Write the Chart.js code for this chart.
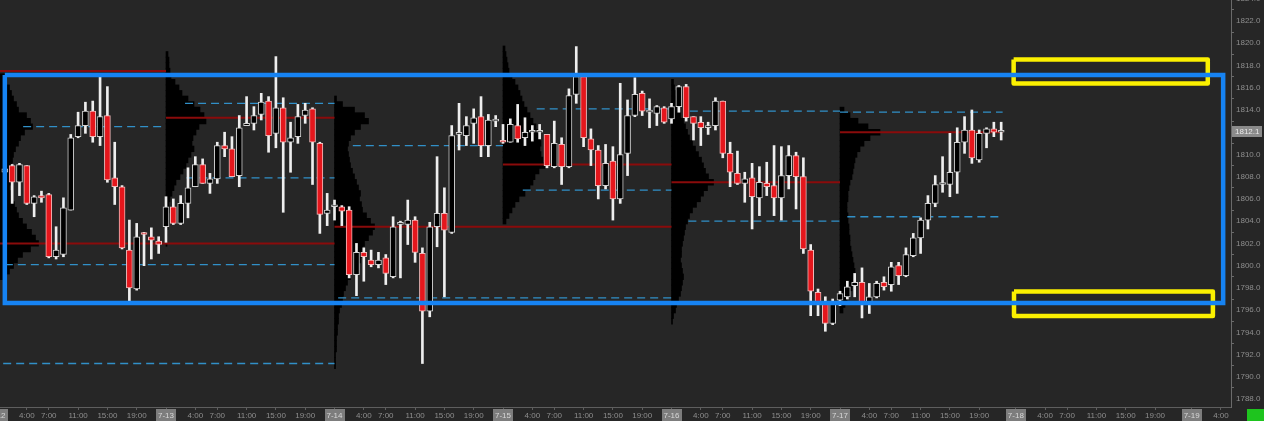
<!DOCTYPE html>
<html>
<head>
<meta charset="utf-8">
<title>GC 60 min - volume profile</title>
<script src="https://cdn.jsdelivr.net/npm/chart.js"></script>
<style>
    html, body { margin: 0; padding: 0; background: #262626; overflow: hidden; }
    #wrap { width: 1264px; height: 421px; }
</style>
</head>
<body>
<div id="wrap"><canvas id="chart" width="1264" height="421"></canvas></div>
<script>
        // --- hourly bars (slot 1 = 7-12 01:00, one slot per hour) ---
        const FIRST_SLOT = 1;
        const opens = [
            1808.4, 1809.0, 1807.5, 1809.0, 1805.6, 1806.3, 1806.4, 1800.8, 1801.0, 1805.0,
            1811.6, 1812.6, 1813.9, 1811.6, 1813.5, 1807.9, 1807.1, 1801.4, 1797.9, 1802.9,
            1802.6, 1802.2, 1803.5, 1805.3, 1803.8, 1805.6, 1807.1, 1809.1, 1807.4, 1807.8,
            1810.8, 1810.5, 1808.1, 1812.6, 1812.8, 1813.6, 1814.8, 1811.9, 1814.2, 1811.1,
            1811.6, 1813.5, 1814.1, 1811.0, 1804.7, 1805.3, 1805.3, 1805.0, 1799.2, 1801.2,
            1800.5, 1800.1, 1800.7, 1799.0, 1803.7, 1803.7, 1804.1, 1801.1, 1795.9, 1803.5,
            1804.7, 1803.0, 1811.8, 1811.7, 1812.8, 1813.4, 1810.8, 1813.0, 1811.2, 1811.1,
            1812.6, 1811.5, 1812.0, 1812.0, 1811.8, 1808.9, 1810.9, 1808.9, 1815.4, 1817.0,
            1811.4, 1810.4, 1807.2, 1809.4, 1806.0, 1810.1, 1813.5, 1815.5, 1813.8, 1813.7,
            1814.2, 1813.2, 1814.3, 1816.1, 1813.4, 1812.9, 1812.4, 1812.6, 1814.8, 1810.1,
            1808.3, 1807.4, 1807.9, 1806.1, 1807.4, 1807.2, 1806.1, 1808.1, 1809.9, 1808.0,
            1801.4, 1797.6, 1796.6, 1794.8, 1796.9, 1797.2, 1798.2, 1798.5, 1796.5, 1797.2,
            1798.5, 1798.3, 1800.0, 1799.1, 1800.9, 1802.5, 1804.1, 1805.6, 1807.3, 1807.3,
            1808.4, 1811.1, 1812.2, 1809.5, 1811.9, 1812.3, 1812.0
        ];
        const highs = [
            1809.0, 1809.1, 1809.2, 1809.0, 1806.3, 1806.7, 1806.5, 1803.5, 1806.1, 1811.8,
            1813.8, 1814.7, 1814.8, 1817.0, 1816.1, 1811.1, 1807.2, 1804.1, 1803.8, 1803.0,
            1803.4, 1802.6, 1806.2, 1806.0, 1806.3, 1808.8, 1809.8, 1809.6, 1808.3, 1811.1,
            1812.0, 1811.6, 1813.5, 1815.2, 1814.3, 1815.5, 1815.2, 1818.8, 1815.1, 1812.9,
            1814.5, 1814.6, 1814.2, 1811.1, 1806.5, 1805.9, 1805.4, 1805.3, 1802.0, 1801.6,
            1801.4, 1801.2, 1801.0, 1804.4, 1804.0, 1805.9, 1804.4, 1801.6, 1803.9, 1809.8,
            1807.0, 1812.6, 1814.6, 1813.4, 1814.1, 1815.2, 1813.6, 1813.5, 1812.7, 1813.2,
            1814.5, 1813.3, 1812.6, 1812.7, 1811.8, 1813.0, 1811.5, 1815.9, 1819.7, 1817.0,
            1812.3, 1810.8, 1810.9, 1810.7, 1816.4, 1814.9, 1816.9, 1815.7, 1815.0, 1814.4,
            1814.3, 1814.6, 1816.2, 1816.3, 1813.4, 1813.4, 1812.9, 1815.1, 1814.8, 1811.1,
            1810.3, 1808.4, 1809.2, 1808.9, 1809.3, 1810.8, 1810.7, 1810.8, 1810.2, 1809.7,
            1801.9, 1797.9, 1797.2, 1797.0, 1797.7, 1798.6, 1799.3, 1799.8, 1798.4, 1798.6,
            1799.0, 1800.3, 1800.3, 1801.6, 1802.9, 1804.3, 1806.3, 1808.1, 1809.8, 1811.9,
            1812.4, 1813.4, 1814.0, 1812.2, 1812.4, 1812.9, 1812.9
        ];
        const lows = [
            1807.8, 1805.6, 1806.3, 1805.5, 1804.4, 1805.7, 1800.7, 1800.6, 1800.8, 1805.0,
            1811.5, 1811.9, 1811.1, 1810.8, 1807.5, 1805.5, 1801.5, 1796.7, 1797.8, 1800.0,
            1800.6, 1801.1, 1802.1, 1803.7, 1803.7, 1804.3, 1807.1, 1807.4, 1806.5, 1807.4,
            1809.8, 1808.0, 1807.1, 1812.6, 1812.2, 1813.1, 1810.2, 1810.6, 1804.8, 1808.4,
            1811.0, 1812.8, 1807.3, 1802.9, 1803.6, 1804.1, 1803.6, 1798.9, 1797.3, 1798.6,
            1799.9, 1799.8, 1798.3, 1798.9, 1798.9, 1801.9, 1800.3, 1791.2, 1795.4, 1801.7,
            1797.2, 1802.9, 1810.4, 1810.8, 1811.0, 1809.8, 1809.8, 1812.5, 1811.0, 1811.1,
            1811.1, 1810.8, 1811.2, 1811.4, 1808.8, 1808.8, 1807.3, 1808.8, 1814.6, 1810.7,
            1809.0, 1806.0, 1806.9, 1804.1, 1805.6, 1808.1, 1813.4, 1813.5, 1812.4, 1812.6,
            1812.8, 1812.8, 1813.8, 1813.0, 1811.3, 1810.8, 1811.8, 1812.2, 1809.7, 1807.1,
            1807.3, 1805.7, 1803.3, 1804.5, 1806.3, 1804.5, 1804.1, 1806.9, 1805.1, 1801.1,
            1795.5, 1795.5, 1794.1, 1794.7, 1796.4, 1797.0, 1797.2, 1795.3, 1795.7, 1797.1,
            1797.8, 1797.7, 1798.3, 1799.0, 1800.8, 1801.1, 1803.3, 1805.3, 1806.6, 1806.2,
            1806.5, 1810.1, 1809.2, 1809.3, 1810.6, 1811.6, 1811.3
        ];
        const closes = [
            1808.7, 1807.5, 1809.1, 1805.6, 1806.2, 1806.1, 1800.8, 1801.4, 1805.2, 1811.5,
            1812.6, 1813.9, 1811.6, 1813.4, 1807.7, 1807.1, 1801.6, 1798.0, 1802.6, 1802.8,
            1802.3, 1801.9, 1805.3, 1803.8, 1805.6, 1807.0, 1809.1, 1807.4, 1807.8, 1810.8,
            1810.5, 1808.0, 1812.4, 1812.8, 1813.5, 1814.7, 1811.7, 1814.2, 1811.1, 1811.5,
            1813.4, 1814.0, 1811.1, 1804.6, 1805.0, 1805.4, 1804.9, 1799.2, 1801.2, 1800.8,
            1800.1, 1800.5, 1799.3, 1803.5, 1803.9, 1804.1, 1801.2, 1795.9, 1803.5, 1804.7,
            1803.2, 1811.7, 1811.9, 1812.6, 1813.3, 1810.8, 1813.1, 1813.1, 1811.1, 1812.7,
            1811.4, 1812.0, 1812.1, 1812.0, 1809.0, 1811.0, 1808.9, 1815.3, 1817.0, 1811.5,
            1810.4, 1807.2, 1809.2, 1806.0, 1810.0, 1813.5, 1815.4, 1813.9, 1813.9, 1814.3,
            1812.9, 1814.3, 1816.1, 1813.3, 1812.8, 1812.4, 1812.6, 1814.8, 1810.1, 1808.4,
            1807.4, 1807.8, 1806.2, 1807.5, 1807.1, 1806.1, 1808.1, 1809.9, 1808.0, 1801.5,
            1797.7, 1796.6, 1794.8, 1796.6, 1797.5, 1798.1, 1798.5, 1796.5, 1797.2, 1798.4,
            1798.1, 1799.9, 1799.1, 1801.0, 1802.5, 1804.1, 1805.6, 1807.3, 1807.4, 1808.4,
            1811.1, 1812.2, 1809.7, 1811.9, 1812.3, 1812.0, 1812.1
        ];

        // --- sessions / axis labels ---
        const dayLabels = ['7-12', '7-13', '7-14', '7-15', '7-16', '7-17', '7-18', '7-19'];
        const daySlots = [0, 23, 46, 69, 92, 115, 139, 163];
        const hourOffsets = [4, 7, 11, 15, 19];
        const hourLabels = ['4:00', '7:00', '11:00', '15:00', '19:00'];
        const priceTicks = [1788, 1790, 1792, 1794, 1796, 1798, 1800, 1802, 1804, 1806,
            1808, 1810, 1812, 1814, 1816, 1818, 1820, 1822, 1824];

        // --- volume profiles (volume per 0.5 price level, from the top level down) ---
        const PROFILE_STEP = 0.5;
        const profileStart = [0, 23, 46, 69, 92, 115];
        const profileTop = [1817.0, 1819.0, 1815.0, 1819.5, 1816.5, 1814.0];
        const vol0712 = [7, 9, 12, 14, 16, 19, 21, 29, 33, 35, 27, 23, 21, 18, 16, 15, 14, 13, 12, 13,
            12, 13, 15, 17, 19, 21, 25, 29, 34, 38, 41, 33, 25, 20, 16, 12, 9];
        const vol0713 = [2, 3, 3, 4, 5, 9, 13, 16, 22, 28, 34, 38, 40, 33, 30, 27, 26, 28, 25, 22,
            20, 17, 14, 10, 8, 6, 4, 3, 3, 2, 2, 2, 1, 1, 1];
        const vol0714 = [2, 8, 20, 30, 34, 26, 20, 16, 14, 13, 14, 15, 16, 18, 20, 22, 24, 26, 25, 27,
            28, 32, 36, 40, 38, 34, 30, 28, 27, 26, 24, 20, 16, 13, 11, 9, 8, 7, 5, 4,
            4, 3, 3, 2, 2, 2, 1, 1, 1];
        const vol0715 = [2, 3, 4, 5, 6, 9, 12, 15, 17, 19, 21, 24, 27, 30, 33, 35, 37, 38, 37, 38,
            40, 42, 36, 32, 30, 27, 22, 16, 12, 9, 6, 3];
        const vol0716 = [2, 3, 4, 5, 6, 7, 9, 12, 14, 16, 18, 21, 24, 27, 30, 32, 34, 37, 42, 36,
            32, 29, 25, 21, 18, 16, 14, 13, 12, 11, 10, 10, 9, 10, 11, 12, 11, 10, 9, 7,
            5, 4, 2, 1];
        const vol0717 = [4, 10, 18, 28, 40, 30, 24, 20, 17, 15, 14, 13, 12, 10, 9, 8, 8, 7, 7, 8,
            8, 9, 9, 10, 10, 11, 12, 13, 14, 15, 15, 14, 12, 9, 7, 5, 3];
        const profileVols = [vol0712, vol0713, vol0714, vol0715, vol0716, vol0717];

        // --- point of control and value area levels (price, from slot, to slot) ---
        const pocLevels = [1817.5, 1802.0, 1813.3, 1803.5, 1809.1, 1807.5, 1812.0];
        const pocFrom = [-1, 0, 23, 46, 69, 92, 115];
        const pocTo = [23, 46, 46, 92, 92, 115, 137.2];
        const vaLevels = [1791.2, 1812.5, 1800.1, 1814.6, 1807.9, 1810.8, 1797.1, 1814.1, 1806.8, 1813.9, 1804.0, 1813.8, 1804.4];
        const vaFrom = [-1, 3.5, 1, 25.6, 25.8, 48.5, 46.5, 73.6, 71.7, 94.5, 94.3, 115, 116];
        const vaTo = [46, 23, 46, 46, 46, 69, 92, 92, 92, 115, 115, 137.2, 137.2];

        // --- marked zones (slot range, price range) ---
        const rangeBox = { from: 1.0, to: 167.3, high: 1817.14, low: 1796.64 };
        const targetFrom = [138.7, 138.75];
        const targetTo = [165.2, 165.9];
        const targetHigh = [1818.54, 1797.67];
        const targetLow = [1816.38, 1795.47];

        // scale window (what the screen shows)
        const X_MIN = 0.341, X_MAX = 168.37;
        const Y_MIN = 1787.29, Y_MAX = 1823.89;
        const VOL_SCALE = 0.1365; // slots per volume unit

        Chart.defaults.font.family = '"Liberation Sans", Arial, sans-serif';
        Chart.defaults.font.size = 8;

        // --- datasets ---
        const slots = opens.map((_, i) => FIRST_SLOT + i);
        const isUp = opens.map((o, i) => closes[i] >= o);
        const datasets = [];

        datasets.push({
            type: 'bar', label: 'bodies', order: 1, grouped: false,
            data: slots.map((s, i) => ({ x: s, y: [opens[i], closes[i]] })),
            backgroundColor: isUp.map(u => u ? '#000000' : '#e5161c'),
            borderColor: isUp.map(u => u ? '#d2d2d2' : '#f1b9b9'),
            borderWidth: 1, borderSkipped: false, barThickness: 6, minBarLength: 2
        });
        datasets.push({
            type: 'bar', label: 'wicks', order: 2, grouped: false,
            data: slots.map((s, i) => ({ x: s, y: [lows[i], highs[i]] })),
            backgroundColor: '#eeeeee', borderWidth: 0, barThickness: 2
        });

        pocLevels.forEach((lvl, k) => datasets.push({
            type: 'line', order: 3,
            data: [{ x: pocFrom[k], y: lvl }, { x: pocTo[k], y: lvl }],
            borderColor: '#8a0b0b', borderWidth: 2, pointRadius: 0
        }));
        vaLevels.forEach((lvl, k) => datasets.push({
            type: 'line', order: 3,
            data: [{ x: vaFrom[k], y: lvl }, { x: vaTo[k], y: lvl }],
            borderColor: '#3190c8', borderWidth: 1.3, borderDash: [8, 5], pointRadius: 0
        }));

        profileVols.forEach((vols, d) => datasets.push({
            type: 'bar', indexAxis: 'y', order: 4, grouped: false,
            data: vols.map((v, k) => ({ y: profileTop[d] - k * PROFILE_STEP, x: [profileStart[d], profileStart[d] + v * VOL_SCALE] })),
            backgroundColor: '#000000', borderWidth: 0, barThickness: 5.7
        }));

        const boxPath = (x0, x1, hi, lo) => [
            { x: x0, y: hi }, { x: x1, y: hi }, { x: x1, y: lo }, { x: x0, y: lo }, { x: x0, y: hi }
        ];
        datasets.push({
            type: 'line', order: 0,
            data: boxPath(rangeBox.from, rangeBox.to, rangeBox.high, rangeBox.low),
            borderColor: '#1683f3', borderWidth: 4.5, pointRadius: 0, borderJoinStyle: 'miter'
        });
        targetFrom.forEach((x0, k) => datasets.push({
            type: 'line', order: 0,
            data: boxPath(x0, targetTo[k], targetHigh[k], targetLow[k]),
            borderColor: '#fbf000', borderWidth: 4.5, pointRadius: 0, borderJoinStyle: 'round'
        }));

        // --- x ticks: day starts + hours ---
        const xTickText = {};
        const xTicks = [];
        daySlots.forEach((d, i) => {
            xTicks.push(d); xTickText[d] = '';
            hourOffsets.forEach((h, j) => {
                if (d + h <= X_MAX) { xTicks.push(d + h); xTickText[d + h] = hourLabels[j]; }
            });
        });

        // scales keep the full canvas: no label padding eaten from the plot
        const noPadding = s => { s.paddingTop = 0; s.paddingBottom = 0; s.paddingLeft = 0; s.paddingRight = 0; };

        // --- background, date boxes, last price ---
        const decor = {
            id: 'decor',
            beforeDraw(chart) {
                const ctx = chart.ctx;
                ctx.save();
                ctx.fillStyle = '#262626';
                ctx.fillRect(0, 0, chart.width, chart.height);
                ctx.restore();
            },
            afterDraw(chart) {
                const { ctx, scales: { x, y } } = chart;
                ctx.save();
                ctx.font = '8px "Liberation Sans", Arial, sans-serif';
                ctx.textAlign = 'center';
                ctx.textBaseline = 'middle';
                dayLabels.forEach((lbl, i) => {
                    const px = x.getPixelForValue(daySlots[i]);
                    ctx.fillStyle = '#7d7d7d';
                    ctx.fillRect(Math.round(px - 10), x.top + 2, 20, 12);
                    ctx.fillStyle = '#d8d8d8';
                    ctx.fillText(lbl, px, x.top + 8.5);
                });
                const last = closes[closes.length - 1];
                const py = y.getPixelForValue(last);
                ctx.fillStyle = '#8a8a8a';
                ctx.fillRect(y.left + 1, Math.round(py - 5.5), 30, 11);
                ctx.fillStyle = '#e8e8e8';
                ctx.textAlign = 'left';
                ctx.fillText(last.toFixed(1), y.left + 4, py + 0.5);
                ctx.fillStyle = '#1ec41e';
                ctx.fillRect(chart.width - 17, x.top + 2, 17, 12);
                ctx.restore();
            }
        };

        new Chart(document.getElementById('chart'), {
            type: 'bar',
            data: { datasets },
            options: {
                responsive: false, devicePixelRatio: 1, animation: false, events: [],
                layout: { padding: 0 },
                plugins: { legend: { display: false }, tooltip: { enabled: false } },
                scales: {
                    x: {
                        type: 'linear', position: 'bottom', min: X_MIN, max: X_MAX, offset: false,
                        afterBuildTicks: s => { s.ticks = xTicks.map(v => ({ value: v })); },
                        afterFit: s => { s.height = 14; noPadding(s); },
                        ticks: { autoSkip: false, maxRotation: 0, minRotation: 0, color: '#8e8e8e', padding: 1, callback: v => xTickText[v] || '' },
                        grid: { drawOnChartArea: false, drawTicks: true, tickLength: 3, color: '#5e5e5e', offset: false },
                        border: { display: true, color: '#5e5e5e' }
                    },
                    y: {
                        type: 'linear', position: 'right', min: Y_MIN, max: Y_MAX, beginAtZero: false, offset: false,
                        afterBuildTicks: s => { s.ticks = priceTicks.map(v => ({ value: v })); },
                        afterFit: s => { s.width = 33; noPadding(s); },
                        ticks: { color: '#8e8e8e', padding: 2, crossAlign: 'near', callback: v => Number(v).toFixed(1) },
                        grid: { drawOnChartArea: false, drawTicks: true, tickLength: 3, color: '#6a6a6a' },
                        border: { display: true, color: '#6a6a6a' }
                    }
                }
            },
            plugins: [decor]
        });
</script>
</body>
</html>
